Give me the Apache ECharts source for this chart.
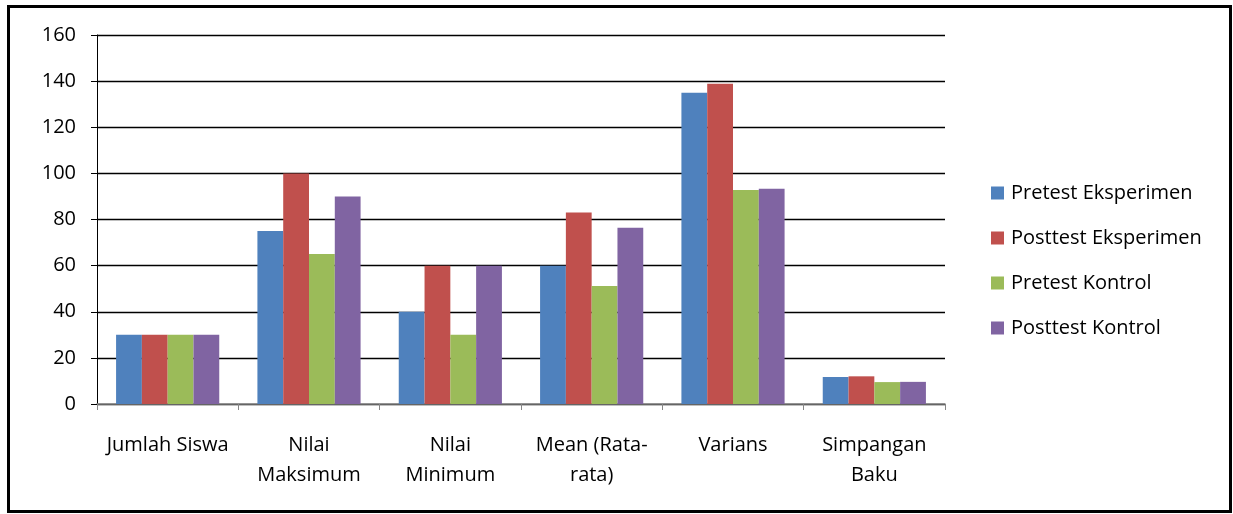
<!DOCTYPE html>
<html>
<head>
<meta charset="utf-8">
<script src="https://cdn.jsdelivr.net/npm/echarts@6/dist/echarts.min.js"></script>
<style>
  html, body { margin: 0; padding: 0; background: #fff; }
  #bar-chart { width: 1233px; height: 514px; }
</style>
</head>
<body>
<div id="bar-chart"></div>
<script>
const categories = ['Jumlah Siswa', 'Nilai\nMaksimum', 'Nilai\nMinimum', 'Mean (Rata-\nrata)', 'Varians', 'Simpangan\nBaku']
const seriesNames = ['Pretest Eksperimen', 'Posttest Eksperimen', 'Pretest Kontrol', 'Posttest Kontrol']
const pretestEksperimen = [30, 75, 40, 60, 135, 11.7]
const posttestEksperimen = [30, 100, 60, 83, 138.9, 12]
const pretestKontrol = [30, 65, 30, 51.2, 92.8, 9.5]
const posttestKontrol = [30, 90, 60, 76.4, 93.3, 9.6]
const colors = ['#4F81BD', '#C0504D', '#9BBB59', '#8064A2']

const fontFamily = '"Open Sans", Lato, sans-serif'
const chartInstance = echarts.init(document.getElementById('bar-chart'))

const tempSeries = [pretestEksperimen, posttestEksperimen, pretestKontrol, posttestKontrol].map((list, i) => {
  return {
    name: seriesNames[i],
    type: 'bar',
    data: list,
    barGap: 0,
    barCategoryGap: '27%',
    itemStyle: { color: colors[i] }
  }
})

chartInstance.setOption({
  animation: false,
  color: colors,
  textStyle: { fontFamily },
  graphic: [
    {
      type: 'rect',
      shape: { x: 8.5, y: 6.5, width: 1222, height: 505 },
      style: { fill: 'none', stroke: '#000', lineWidth: 3 },
      silent: true
    }
  ],
  legend: {
    orient: 'vertical',
    left: 986,
    top: 178,
    itemWidth: 13,
    itemHeight: 13,
    itemGap: 25,
    icon: 'rect',
    textStyle: { fontSize: 20, color: '#000', fontFamily, padding: [0, 0, 0, 2] }
  },
  grid: {
    left: 97,
    right: 288,
    top: 35,
    bottom: 110
  },
  yAxis: {
    type: 'value',
    min: 0,
    max: 160,
    interval: 20,
    axisLine: { show: true, lineStyle: { color: '#000', width: 1 } },
    axisTick: { show: true, length: 6, lineStyle: { color: '#000' } },
    axisLabel: { fontSize: 20, color: '#000', margin: 21, fontFamily },
    splitLine: { show: true, lineStyle: { color: '#000', width: 1.3 } }
  },
  xAxis: {
    type: 'category',
    data: categories,
    axisLine: { show: true, lineStyle: { color: '#868686', width: 1.5 } },
    axisTick: { show: true, length: 6, lineStyle: { color: '#868686' } },
    axisLabel: {
      fontSize: 20,
      color: '#000',
      margin: 26,
      lineHeight: 30,
      interval: 0,
      fontFamily
    }
  },
  series: tempSeries
})
</script>
</body>
</html>
